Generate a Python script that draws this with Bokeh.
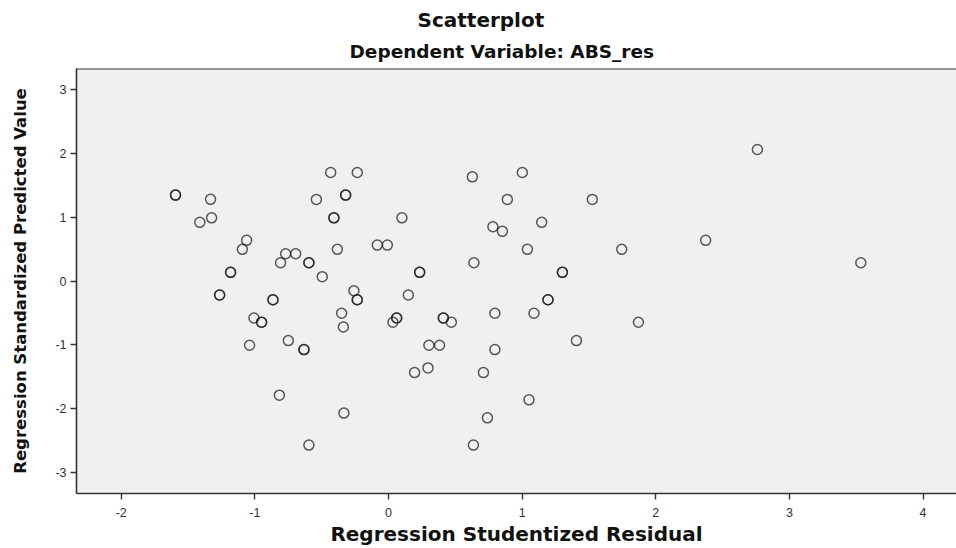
from bokeh.plotting import figure
from bokeh.models import Range1d, FixedTicker, Title, Span
from bokeh.embed import file_html
from bokeh.resources import INLINE

# Regression Studentized Residual (x) and Regression Standardized Predicted Value (y)
# (repeated pairs are coinciding cases that print darker in the reference)
residual = [-1.594, -1.594, -1.332, -1.412, -1.324, -1.062, -1.094, -0.770, -0.695, -0.808,
            -0.596, -0.596, -0.433, -0.234, -0.540, -0.321, -0.321, -0.409, -0.409, -0.383,
            0.627, 1.001, 0.889, 1.525, 0.100, 0.781, 0.852, 1.146, -0.084, -0.009,
            1.039, 1.745, 0.639, 2.760, 2.373, 3.534, -1.182, -1.182, -0.496, -1.264,
            -1.264, -0.865, -0.865, -0.259, -0.234, -0.234, -1.007, -0.950, -0.950, -0.351,
            -0.338, -1.040, -0.750, -0.633, -0.633, -0.817, -0.334, -0.596, 0.233, 0.233,
            1.301, 1.301, 0.148, 1.193, 1.193, 0.061, 0.061, 0.033, 0.410, 0.410,
            0.470, 0.796, 1.088, 1.870, 0.302, 0.382, 0.796, 1.406, 0.195, 0.295,
            0.710, 1.051, 0.740, 0.635]
predicted = [1.346, 1.346, 1.280, 0.919, 0.990, 0.637, 0.496, 0.427, 0.427, 0.286,
             0.286, 0.286, 1.701, 1.700, 1.279, 1.346, 1.346, 0.990, 0.990, 0.496,
             1.632, 1.700, 1.279, 1.279, 0.990, 0.850, 0.778, 0.919, 0.563, 0.563,
             0.496, 0.496, 0.286, 2.061, 0.637, 0.286, 0.136, 0.136, 0.068, -0.219,
             -0.219, -0.293, -0.293, -0.152, -0.293, -0.293, -0.579, -0.646, -0.646, -0.505,
             -0.720, -1.006, -0.934, -1.075, -1.075, -1.789, -2.070, -2.571, 0.136, 0.136,
             0.136, 0.136, -0.219, -0.293, -0.293, -0.579, -0.579, -0.646, -0.579, -0.579,
             -0.646, -0.505, -0.505, -0.646, -1.006, -1.006, -1.075, -0.934, -1.435, -1.362,
             -1.435, -1.862, -2.144, -2.571]

x_ticks = [-2, -1, 0, 1, 2, 3, 4]
y_ticks = [-3, -2, -1, 0, 1, 2, 3]

title_main = "Scatterplot"
title_sub = "Dependent Variable: ABS_res"
x_label = "Regression Studentized Residual"
y_label = "Regression Standardized Predicted Value"

X_MIN, X_MAX = -2.335, 4.25
Y_MIN, Y_MAX = -3.33, 3.33

p = figure(width=956, height=548, output_backend="svg", toolbar_location=None,
           x_range=Range1d(X_MIN, X_MAX), y_range=Range1d(Y_MIN, Y_MAX),
           min_border_left=76, min_border_right=0, min_border_top=68, min_border_bottom=54,
           background_fill_color="#f0f0f0", border_fill_color="white")
p.outline_line_color = None
p.grid.visible = False

p.add_layout(Title(text=title_sub, align="left", offset=273, text_font="DejaVu Sans",
                   text_font_size="18.5px", text_font_style="bold", text_color="#111111",
                   standoff=14), "above")
p.add_layout(Title(text=title_main, align="left", offset=341, text_font="DejaVu Sans",
                   text_font_size="20px", text_font_style="bold", text_color="#111111",
                   standoff=0), "above")

for ax in (p.xaxis[0], p.yaxis[0]):
    ax.axis_line_color = "#333333"
    ax.axis_line_width = 1.6
    ax.major_tick_line_color = "#333333"
    ax.major_tick_line_width = 1.4
    ax.major_tick_in = 0
    ax.major_tick_out = 6
    ax.minor_tick_line_color = None
    ax.major_label_text_font = "Liberation Sans"
    ax.major_label_text_font_size = "12.5px"
    ax.major_label_text_color = "#333333"
    ax.axis_label_text_font_style = "bold"
    ax.axis_label_text_color = "#111111"

p.xaxis.ticker = FixedTicker(ticks=x_ticks)
p.yaxis.ticker = FixedTicker(ticks=y_ticks)
p.xaxis.major_label_overrides = {t: str(t) for t in x_ticks}
p.yaxis.major_label_overrides = {t: str(t) for t in y_ticks}
p.xaxis.axis_label = x_label
p.yaxis.axis_label = y_label
p.xaxis.axis_label_text_font = "DejaVu Sans"
p.xaxis.axis_label_text_font_size = "20px"
p.xaxis.axis_label_standoff = 2
p.xaxis.major_label_standoff = 8
p.yaxis.axis_label_text_font = "DejaVu Sans"
p.yaxis.axis_label_text_font_size = "16.5px"
p.yaxis.axis_label_standoff = 22
p.yaxis.major_label_standoff = 4

top_edge = Span(location=Y_MAX, dimension="width", line_color="#333333", line_width=2)
p.add_layout(top_edge)

p.scatter(residual, predicted, marker="circle", size=10, fill_color=None,
          line_color="#1a1a1a", line_alpha=0.72, line_width=1.5)

open("out.html", "w").write(file_html(p, INLINE))
